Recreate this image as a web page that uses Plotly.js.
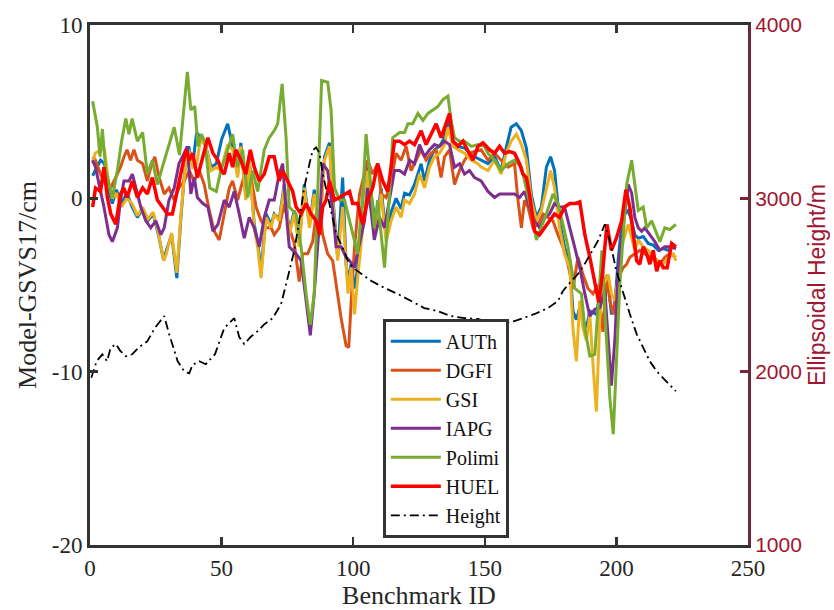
<!DOCTYPE html>
<html>
<head>
<meta charset="utf-8">
<script src="https://cdn.plot.ly/plotly-3.0.1.min.js"></script>
<style>html,body{margin:0;padding:0;background:#fff;}#chart{width:834px;height:610px;}</style>
</head>
<body>
<div id="chart"></div>
<script>
// Series names and colours
const seriesNames = ["AUTh", "DGFI", "GSI", "IAPG", "Polimi", "HUEL"];
const seriesColors = ["#0072BD", "#D95319", "#EDB120", "#7E2F8E", "#77AC30", "#FF0000"];
const xTicks = [0, 50, 100, 150, 200, 250];
const yTicks = [-20, -10, 0, 10];
const y2Ticks = [1000, 2000, 3000, 4000];

// [benchmark ID, Model-GSVS17 (cm)]
const auth = [[1,1.3],[2.5,1.8],[4,2.2],[5.5,2.0],[7,0.5],[8.5,-0.3],[10,0.5],[12,-0.3],[14,0.3],[16,-0.5],[18,-1.1],[20,-0.6],[22,-1.3],[24,-0.9],[26,-2.1],[28,-3.6],[29,-3.0],[31,-2.1],[33,-4.6],[34.5,-1.2],[36,1.6],[37.5,3.0],[39,1.9],[40.5,3.8],[42,3.5],[44,3.0],[46,1.8],[48,2.0],[50,3.4],[52.3,4.3],[54.2,3.0],[56.1,1.4],[57.3,3.2],[59.2,0.2],[60.5,2.3],[62.4,-1.5],[63.7,-2.5],[65,-4.2],[66.9,-0.9],[68.8,-1.5],[70,-0.9],[71.9,-1.2],[73.8,0.8],[75.7,-2.0],[77.6,-0.7],[79.5,-2.6],[81.4,0.8],[83.4,-1.5],[85.2,0.5],[87.2,-1.8],[89.1,2.4],[91,3.2],[92.2,0.2],[94.1,-3.4],[96,1.2],[97.3,-3.8],[98,-4.8],[99.2,-3.8],[100.5,-5.2],[101.7,-4.0],[103,-2.2],[104.3,-0.3],[105.5,1.8],[106.8,0.2],[108.7,-1.6],[110.6,0.6],[112.5,-2.2],[114.4,-0.8],[116.3,0.0],[118.2,-0.6],[119.5,0.3],[121.4,0.2],[123.3,0.8],[125.8,2.0],[127.1,1.0],[129,2.2],[130.9,2.8],[132.8,3.0],[134.7,3.5],[136,4.6],[137.9,3.3],[139.8,3.0],[142.3,2.9],[144.9,2.5],[147.4,2.3],[148.6,2.2],[151.2,2.0],[153.7,2.4],[156.2,1.6],[158.1,2.9],[160,4.1],[162,4.3],[163.9,3.9],[165.8,2.9],[167.7,0.2],[169.6,-1.1],[171.5,-0.5],[173.4,1.8],[175,2.4],[176.5,1.6],[178.4,-1.3],[180.3,-2.8],[182.3,-3.8],[183.5,-6.5],[184.8,-7.0],[186.1,-6.3],[187.3,-7.0],[188.6,-7.5],[189.9,-6.5],[191.2,-6.6],[192.4,-6.7],[193.7,-5.5],[195,-4.6],[196.9,-4.8],[198.1,-6.7],[199.4,-6.2],[200.7,-3.5],[201.9,-1.7],[203.2,-0.9],[204.5,-0.7],[205.8,-1.3],[207,-2.1],[208.3,-2.3],[210.2,-2.2],[212.1,-2.6],[214,-2.7],[215.9,-3.0],[217.8,-2.9],[219.7,-3.0],[221.6,-2.8],[222.6,-2.9]];

const dgfi = [[1,2.4],[2.1,2.2],[4,1.4],[6,0.8],[7.9,0.6],[9.8,1.2],[11.6,1.8],[12.9,2.4],[14.1,2.8],[15.4,2.2],[16.7,2.8],[18,2.2],[20,2.0],[21.8,1.0],[23.1,1.8],[24.6,2.4],[26.3,1.2],[28.2,0.25],[30,0.6],[32,-0.1],[33.8,0.6],[35.8,1.0],[37.7,1.6],[39.6,1.0],[41.5,1.6],[43.4,0.8],[45.3,-0.7],[47.2,-1.9],[49.1,-2.4],[51,-0.9],[52.9,0.6],[54.2,1.0],[56.1,-0.1],[58,1.0],[59.9,1.8],[61.2,1.2],[63.1,-0.5],[65,-1.3],[66.9,-1.7],[68.8,-1.7],[70,-2.1],[71.9,-1.7],[73.8,-0.3],[75.7,-1.7],[77.6,-2.6],[79.5,-4.8],[80.8,-3.2],[82.7,-3.2],[84.6,-2.5],[85.9,-0.9],[87.2,-0.7],[88.4,-2.1],[90.3,-3.2],[92.2,-3.6],[94.1,-5.7],[95.4,-6.9],[97.3,-8.5],[98.3,-8.6],[99.4,-5.5],[100.5,-2.8],[102.4,0.25],[104.3,1.4],[105.5,2.2],[107.4,1.4],[109.3,2.0],[110.6,0.25],[112.5,0.05],[114.4,1.0],[116.3,2.6],[118.2,2.2],[120.1,3.0],[122,1.6],[123.9,2.2],[125.8,2.8],[127.7,2.2],[129.6,2.6],[131.5,2.8],[133.4,1.2],[134.7,2.4],[136.6,2.8],[138.5,0.8],[140.4,1.6],[142.3,2.2],[144.2,2.6],[146.1,2.7],[148.6,2.8],[151.2,2.2],[153.7,2.6],[156.2,2.2],[158.8,1.8],[161.3,2.0],[162.6,-0.1],[163.9,-1.7],[165.1,-0.1],[166.4,-0.5],[168.3,-1.7],[170.2,-1.5],[172.1,-0.9],[174,-1.1],[175.9,-1.3],[177.8,-2.1],[179.7,-2.8],[181.6,-3.8],[183.5,-5.2],[185.4,-3.4],[187.3,-4.4],[189.2,-5.2],[191.1,-5.5],[193,-5.0],[194.9,-7.7],[196.4,-4.4],[197.5,-5.9],[198.8,-6.7],[200,-5.2],[201.3,-4.4],[202.6,-4.0],[203.9,-3.8],[205.1,-3.4],[207,-3.2],[208.9,-3.0],[210.8,-3.2],[212.7,-3.4],[214.6,-3.6],[216.5,-3.8],[218.4,-3.4],[220.3,-3.2],[222.6,-3.4]];

const gsi = [[1,2.0],[2,2.6],[4,2.8],[5.5,2.8],[7,1.0],[8.5,0.0],[10,0.3],[12,-0.5],[14,0.0],[16,-0.3],[18,-1.0],[20,-0.5],[22,-1.2],[24,-0.8],[26,-2.0],[28,-3.6],[29,-3.2],[31,-2.0],[33,-4.3],[34.5,-1.0],[36,1.5],[37.5,2.8],[39,1.8],[40.5,2.0],[42,3.4],[44,3.0],[46,1.6],[48,1.8],[49.7,1.6],[52.3,3.1],[54.2,2.8],[56.1,1.2],[57.3,3.0],[59.2,-0.1],[60.5,2.2],[62.4,-1.7],[63.7,-2.8],[65,-4.6],[66.9,-1.1],[68.8,-1.7],[70,-0.9],[71.9,-1.3],[73.8,0.6],[75.7,-2.1],[77.6,-0.9],[79.5,-2.8],[81.4,0.6],[83.4,-1.7],[85.2,0.25],[87.2,-2.1],[89.1,2.2],[91,3.0],[92.2,-0.1],[94.1,-3.6],[96,-0.5],[97.3,-4.0],[98,-5.5],[99.2,-4.0],[100.5,-6.7],[101.7,-4.6],[103,-2.8],[104.3,-0.7],[105.5,1.6],[106.8,-0.1],[108.7,-1.9],[110.6,0.25],[112.5,-2.5],[114.4,-1.3],[116.3,-0.5],[118.2,-1.1],[119.5,-0.1],[121.4,-0.3],[123.3,0.25],[125.2,1.4],[127.1,0.6],[129,1.8],[130.9,2.4],[132.8,2.6],[134.7,3.1],[136,4.1],[137.9,3.0],[139.8,2.8],[142.3,2.6],[144.9,2.2],[147.4,2.0],[148.6,1.8],[151.2,1.6],[153.7,2.2],[156.2,1.4],[158.1,2.6],[160,3.3],[162,3.7],[163.9,3.1],[165.8,2.2],[167.7,-0.1],[169.6,-1.3],[171.5,-0.7],[173.4,0.6],[175,1.6],[176.5,0.6],[178.4,-1.7],[180.3,-3.2],[182.3,-4.0],[183.5,-7.5],[184.8,-9.4],[186.1,-5.9],[187.3,-7.5],[188.6,-8.2],[189.9,-6.7],[191.2,-9.8],[192.4,-12.3],[193.7,-6.9],[195,-5.0],[196.9,-4.4],[198.1,-5.5],[199.4,-5.9],[200.7,-4.6],[201.9,-2.8],[203.2,-2.1],[204.5,-1.5],[205.8,-2.3],[207,-3.0],[208.3,-2.4],[210.2,-2.8],[212.1,-3.0],[214,-3.4],[215.9,-3.6],[217.8,-3.8],[219.7,-3.4],[221.6,-3.2],[222.6,-3.6]];

const iapg = [[1,2.2],[2.1,1.8],[4,0.4],[5.3,-0.5],[7.2,-2.1],[8.5,-2.5],[10.4,-1.7],[11.6,-0.1],[12.9,1.0],[14.8,1.0],[16.1,1.4],[18,0.25],[19.3,-0.5],[21.2,-1.3],[23.1,-1.7],[25,-1.3],[26.9,-2.1],[28.2,-1.7],[30,-0.1],[32,0.6],[33.8,2.0],[35.8,2.6],[37,3.0],[38.3,0.25],[39.6,1.2],[40.8,0.05],[42.9,-0.3],[44.8,-0.5],[46.7,-1.9],[48.6,-1.5],[50.5,-0.4],[51,-0.1],[52.9,-0.5],[54.8,0.4],[56.7,-0.9],[58.6,-2.3],[60.5,-1.1],[62.4,-1.7],[64.3,-2.8],[66.2,-1.1],[68.1,-0.1],[70,-0.1],[71.9,1.4],[73.2,2.0],[74.5,-0.7],[75.7,-2.8],[78.3,-3.2],[80.2,-3.6],[82.1,-5.9],[83.7,-7.9],[85.2,-5.5],[87.2,-1.3],[88.4,2.0],[90.3,1.6],[92.2,-0.7],[93.5,-2.8],[95.4,-2.8],[97.3,-3.4],[98.6,-3.6],[100.5,-4.0],[102.4,-2.6],[104.3,-1.3],[105.5,0.6],[106.8,-0.7],[108,-2.4],[110,-1.1],[111.9,-1.7],[113.8,-0.1],[115.7,1.6],[117.6,1.6],[119.5,1.4],[121.4,2.2],[123.3,2.0],[125.2,3.1],[127.1,2.4],[129,2.8],[130.9,3.1],[132.8,3.0],[134.7,3.3],[136.6,3.1],[138.5,1.8],[140.4,2.0],[142.3,1.4],[144.2,1.6],[146.1,1.2],[148.6,1.0],[151.2,0.4],[153.7,0.05],[155.6,0.25],[157.5,0.25],[159.4,0.25],[161.3,0.25],[163.2,0.05],[165.1,0.4],[167,-0.5],[168.9,-1.3],[170.8,-1.7],[172.7,-1.1],[174.6,-0.9],[176.5,-0.3],[178.4,-0.5],[180.3,-0.5],[182.3,-1.7],[184.2,-2.8],[186.1,-4.0],[188,-5.5],[189.9,-6.8],[191.8,-6.4],[193.7,-6.3],[195.6,-5.3],[196.9,-7.9],[198.1,-10.8],[199.4,-8.2],[200.7,-4.0],[201.9,-2.5],[203.2,-0.7],[204.5,0.8],[205.8,0.3],[207,-1.1],[208.3,-1.7],[209.6,-1.9],[210.8,-1.7],[212.7,-2.1],[214.6,-2.5],[216.5,-3.0],[218.4,-2.8],[220.3,-2.8],[222.6,-2.9]];

const polimi = [[1,5.6],[2.8,4.1],[3.8,2.4],[4.7,4.0],[6,1.6],[8.5,0.05],[10.4,1.6],[12,3.3],[13.6,4.6],[14.8,3.7],[16,4.6],[18,3.3],[20,3.8],[21.8,1.4],[23.7,2.2],[25.6,0.8],[27.5,1.8],[30,3.0],[32,4.1],[34,2.5],[37,7.3],[38.3,5.1],[39.8,5.3],[41,3.0],[42.3,3.7],[43.6,3.3],[45.5,0.6],[48,0.4],[49.7,1.6],[52.3,2.8],[54.2,3.7],[56,1.8],[58,2.8],[59.9,0.05],[61.8,1.6],[63.7,0.4],[66.2,2.8],[68.1,3.5],[70,3.9],[71.3,4.3],[73,6.6],[74.5,3.5],[75.7,-0.5],[78.3,-0.9],[80.2,-2.8],[82.1,-5.5],[83.7,-7.3],[85.2,-5.5],[86.5,0.25],[88,6.8],[90.3,6.7],[91.6,5.1],[92.9,0.6],[94.8,-0.1],[96.7,-0.1],[99.2,-1.7],[101.7,-3.2],[103.6,0.25],[104.9,3.7],[106.2,1.6],[108,-1.7],[109.3,-0.1],[111.9,-4.0],[113.8,0.25],[115,3.5],[117.6,3.8],[119.5,3.8],[120.8,4.3],[122.6,4.3],[124.6,4.9],[126.5,4.5],[128.4,4.9],[130.3,5.1],[132.2,5.3],[134.1,5.7],[136,5.9],[137.2,4.5],[138.5,3.5],[140.4,3.3],[142.3,3.3],[144.9,3.0],[147.4,3.1],[149.9,3.0],[151.2,2.6],[153.7,2.2],[156.2,1.6],[158.8,2.0],[161.3,2.2],[163.9,1.8],[166.4,0.25],[168.3,-1.1],[169.6,-2.4],[171.5,-1.7],[173.4,-0.9],[175.9,0.25],[177.8,-0.3],[179.7,-1.5],[181.6,-2.8],[184.2,-5.2],[186.7,-5.5],[188,-7.5],[189.9,-9.1],[191.8,-9.0],[193.5,-5.5],[194.5,-3.0],[195.8,-7.0],[197.5,-11.5],[198.8,-13.6],[200,-9.8],[201.3,-5.0],[202.6,-2.1],[203.9,0.8],[205.8,2.2],[207,0.8],[208.3,-0.7],[210.2,-0.5],[211.5,-1.7],[213.4,-1.3],[215.3,-2.1],[216.5,-2.5],[218.4,-1.7],[220.3,-1.8],[222.6,-1.5]];

const huel = [[1,-0.5],[2.1,0.6],[4,0.4],[5.3,1.8],[6.6,0.05],[7.9,-0.9],[9.8,-1.5],[11.6,0.25],[12.9,0.6],[14.1,0.05],[16.1,1.0],[18,0.05],[20,0.6],[21.8,0.25],[23.7,1.2],[25.6,-0.1],[27.5,-0.5],[29.4,-0.9],[31.3,-0.9],[33.3,0.6],[35.2,2.0],[36.4,2.8],[37.7,2.2],[39,2.6],[40.8,1.2],[42.9,2.4],[44.8,3.5],[46.7,2.6],[48.6,2.2],[50,1.6],[51,1.4],[52.9,2.6],[54.2,1.8],[55.4,2.8],[57.3,2.2],[59.2,1.4],[60.9,2.8],[62.4,1.8],[64.3,1.0],[66.2,1.4],[68.1,2.4],[70,2.4],[71.9,1.0],[73.2,1.6],[75.1,1.0],[77,0.4],[78.3,-0.5],[80.2,-0.9],[82.1,-0.3],[84,-0.9],[85.9,-1.3],[87.2,-2.1],[88.4,-0.5],[89.7,-0.1],[91,1.0],[92.9,-0.1],[94.8,0.05],[96.7,0.2],[98.6,0.4],[99.8,-0.3],[101.7,-0.3],[103.6,-1.5],[105.5,-0.1],[107.4,0.6],[109.3,2.0],[111.2,1.0],[113.1,0.4],[114.4,1.8],[115.7,3.3],[117.6,3.3],[119.5,3.1],[121.4,3.3],[123.3,3.1],[125.8,3.9],[127.7,3.1],[129.6,3.7],[131.5,4.3],[133.4,3.5],[135.3,4.3],[136.6,4.9],[137.9,3.3],[139.8,3.0],[141.7,3.3],[143.6,2.8],[145.5,2.2],[147.4,3.0],[149.3,3.2],[151.8,2.8],[153.7,2.6],[155.6,3.0],[157.5,2.6],[159.4,2.7],[161.3,2.6],[163.2,2.0],[164.5,1.4],[165.8,1.2],[167,0.25],[168.9,-1.9],[170.8,-2.1],[172.7,-1.7],[174.6,-1.3],[176.5,-0.9],[178.4,-1.1],[180.3,-0.5],[182.3,-0.3],[184.2,-0.3],[186.1,-0.2],[188,-2.1],[189.9,-3.4],[191.8,-5.0],[193.3,-6.0],[194.8,-4.2],[196.4,-1.5],[198.1,-3.0],[200,-2.3],[202,-1.3],[203.6,0.5],[205.1,-0.5],[206.4,-2.1],[207.7,-3.6],[208.9,-3.8],[210.2,-2.8],[211.5,-3.2],[212.7,-3.8],[214,-3.0],[215.3,-4.2],[216.5,-3.6],[217.8,-4.0],[219.3,-4.0],[221,-2.6],[222.6,-2.8]];

// [benchmark ID, ellipsoidal height (m)] on the right axis
const height = [[0.5,1965],[2.5,2060],[4.7,2100],[6.5,2060],[7.8,2136],[9.8,2159],[11.5,2120],[13.6,2089],[16,2100],[18.5,2140],[21.8,2176],[24.6,2251],[28.2,2321],[30,2220],[33.3,2060],[35.8,2002],[37.7,1991],[39,2040],[41.5,2060],[44,2043],[47.5,2101],[51,2251],[54.8,2309],[56.7,2200],[58.6,2159],[61,2200],[63.7,2234],[66,2270],[69.4,2309],[72.6,2390],[75.1,2541],[77.6,2697],[79.5,2871],[81.4,3062],[83.4,3201],[84.6,3276],[85.9,3294],[87.2,3260],[88.4,3143],[91,2969],[93.5,2796],[96,2715],[98,2640],[100,2599],[103,2564],[106.8,2524],[111.9,2483],[117,2448],[122,2408],[127,2367],[132,2350],[137,2321],[142.3,2309],[147.4,2304],[153.7,2275],[161.3,2292],[169,2333],[174,2367],[177.8,2408],[179.7,2466],[183,2524],[185.4,2564],[188,2622],[190.5,2690],[193,2755],[195.6,2850],[197.5,2755],[200,2581],[202.6,2448],[205.1,2333],[207.7,2217],[210.2,2136],[212.7,2060],[215.3,2002],[217.8,1962],[220.3,1927],[222.6,1887]];

const seriesData = [auth, dgfi, gsi, iapg, polimi, huel];
const serif = "Liberation Serif, Times New Roman, serif";
const sans = "Liberation Sans, Arial, sans-serif";
const axisGray = "#333333";
const rightColor = "#A2142F";

const traces = seriesData.map((d, i) => ({
  type: "scatter", mode: "lines", name: seriesNames[i],
  x: d.map(p => p[0]), y: d.map(p => p[1]),
  line: {color: seriesColors[i], width: i === 5 ? 3.5 : 3},
  xaxis: "x", yaxis: "y"
}));
traces.push({
  type: "scatter", mode: "lines", name: "Height",
  x: height.map(p => p[0]), y: height.map(p => p[1]),
  line: {color: "#000000", width: 1.8, dash: "9px,4px,2px,4px"},
  xaxis: "x", yaxis: "y2"
});

const layout = {
  width: 834, height: 610,
  margin: {l: 90, r: 86, t: 25, b: 65, pad: 0},
  paper_bgcolor: "#ffffff", plot_bgcolor: "#ffffff",
  showlegend: true,
  legend: {
    x: 0.445, y: 0.435, xanchor: "left", yanchor: "top",
    bgcolor: "#ffffff", bordercolor: axisGray, borderwidth: 3,
    font: {family: serif, size: 20, color: "#111111"},
    tracegroupgap: 0, itemwidth: 50
  },
  xaxis: {
    range: [0, 250], tickvals: xTicks, ticktext: xTicks.map(String),
    ticks: "inside", ticklen: 8, tickwidth: 2.5, tickcolor: axisGray,
    showline: true, linecolor: axisGray, linewidth: 3, mirror: "ticks",
    showgrid: false, zeroline: false,
    tickfont: {family: serif, size: 23, color: "#262626"},
    title: {text: "Benchmark ID", font: {family: serif, size: 26, color: "#262626"}, standoff: 4}
  },
  yaxis: {
    range: [-20, 10], tickvals: yTicks, ticktext: yTicks.map(String),
    ticks: "inside", ticklen: 8, tickwidth: 2.5, tickcolor: axisGray,
    showline: true, linecolor: axisGray, linewidth: 3, mirror: false,
    showgrid: false, zeroline: false,
    tickfont: {family: serif, size: 23, color: "#262626"},
    title: {text: "Model-GSVS17/cm", font: {family: serif, size: 26, color: "#262626"}, standoff: 8}
  },
  yaxis2: {
    range: [1000, 4000], tickvals: y2Ticks, ticktext: y2Ticks.map(String),
    overlaying: "y", side: "right",
    ticks: "inside", ticklen: 8, tickwidth: 2.5, tickcolor: "#7a2236",
    showline: true, linecolor: "#6e2838", linewidth: 3,
    showgrid: false, zeroline: false,
    tickfont: {family: sans, size: 21, color: rightColor},
    title: {text: "Ellipsoidal Height/m", font: {family: sans, size: 23, color: rightColor}, standoff: 8}
  }
};

Plotly.newPlot("chart", traces, layout, {displayModeBar: false, staticPlot: true});
</script>
</body>
</html>
